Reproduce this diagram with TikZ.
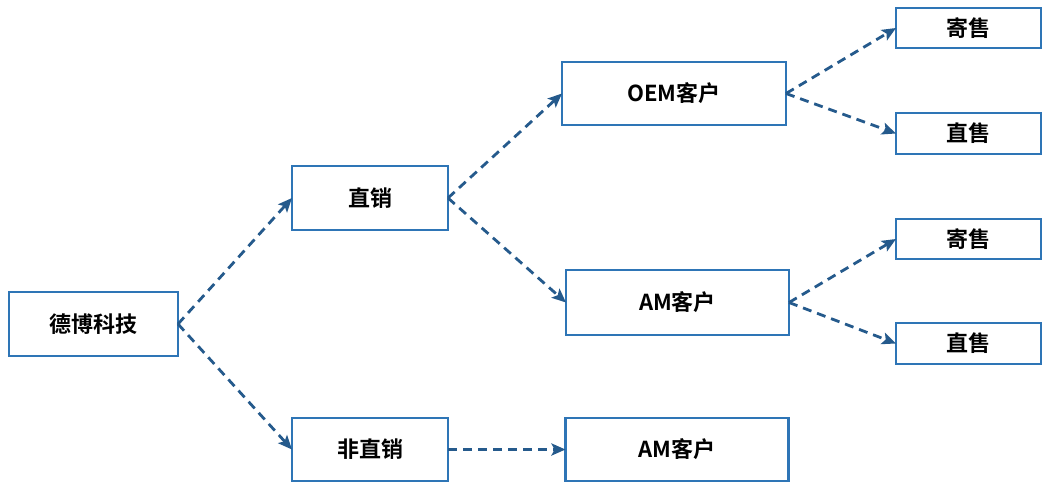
\documentclass[tikz,border=0pt]{standalone}
\usepackage{fontspec}
\setmainfont{Noto Sans CJK SC Bold}
\usetikzlibrary{arrows.meta}
\definecolor{kuanglan}{HTML}{2E75B6}
\definecolor{xianlan}{HTML}{255A8C}
\tikzset{
  kuang/.style={rectangle, draw=kuanglan, line width=2.8pt, fill=white,
    inner sep=0pt, outer sep=0pt, font=\fontsize{22}{24}\selectfont},
  jiantou/.style={-{Stealth[length=14pt,width=12pt,inset=3pt]},
    dash pattern=on 9pt off 6pt, line width=2.8pt, xianlan}
}
\newcommand{\hezi}[6]{
  \node[kuang, minimum width=#4, minimum height=#5] (#1) at (#2,#3) {#6};
}
\newcommand{\xian}[2]{
  \draw[jiantou] (#1.east)--(#2.west);
}
\begin{document}
\begin{tikzpicture}[x=1pt,y=-1pt]

  \useasboundingbox (0,0) rectangle (1043,483);

  % Kuang
  % =====
  \hezi{root}{93.5}{324}{169pt}{64pt}{德博科技};
  \hezi{zx}{370}{198}{156pt}{64pt}{直销};
  \hezi{fzx}{370}{449.5}{156pt}{63pt}{非直销};
  \hezi{oem}{674}{93.5}{224pt}{63pt}{OEM客户};
  \hezi{am}{677.5}{302.5}{223pt}{65pt}{AM客户};
  \hezi{amb}{677}{449.5}{223pt}{63pt}{AM客户};
  \hezi{jsa}{968.5}{28}{145pt}{40pt}{寄售};
  \hezi{zsa}{968.5}{133.5}{145pt}{41pt}{直售};
  \hezi{jsb}{968.5}{239}{145pt}{40pt}{寄售};
  \hezi{zsb}{968.5}{343.5}{145pt}{41pt}{直售};

  % Xian
  % ====
  \xian{root}{zx};
  \xian{root}{fzx};
  \xian{zx}{oem};
  \xian{zx}{am};
  \xian{fzx}{amb};
  \xian{oem}{jsa};
  \xian{oem}{zsa};
  \xian{am}{jsb};
  \xian{am}{zsb};

\end{tikzpicture}
\end{document}
